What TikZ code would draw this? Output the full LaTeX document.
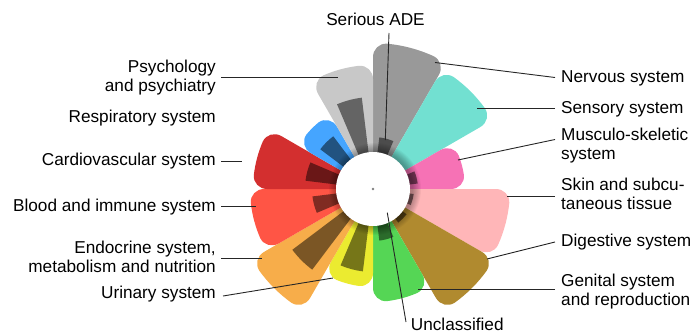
\documentclass[tikz,border=0pt]{standalone}
\usepackage{fontspec}
\setmainfont{Liberation Sans}
\definecolor{cNerv}{HTML}{999999}
\definecolor{cSens}{HTML}{72E0D1}
\definecolor{cMusc}{HTML}{F672B5}
\definecolor{cSkin}{HTML}{FFB6B8}
\definecolor{cDige}{HTML}{B08A2F}
\definecolor{cGeni}{HTML}{55D655}
\definecolor{cUrin}{HTML}{EBEB30}
\definecolor{cEndo}{HTML}{F7AD4A}
\definecolor{cBloo}{HTML}{FF5545}
\definecolor{cCard}{HTML}{D32F2F}
\definecolor{cResp}{HTML}{45A5FF}
\definecolor{cPsyc}{HTML}{C8C8C8}
% sector with rounded outer corners: a1 a2 rin R colour fillcolour-spec rho
\newcommand\mysector[6]{%
  \pgfmathsetmacro\myd{min(#6/#4*57.3,(#2-#1)/2)}%
  \fill[#5] (#1:#3) -- (#1:{#4-#6})
    .. controls (#1:{#4-0.45*#6}) and ({#1+0.45*\myd}:#4) .. ({#1+\myd}:#4)
    arc[start angle={#1+\myd}, end angle={#2-\myd}, radius=#4]
    .. controls ({#2-0.45*\myd}:#4) and (#2:{#4-0.45*#6}) .. (#2:{#4-#6})
    -- (#2:#3) -- cycle;}
\newcommand\mypetal[4]{\mysector{#1}{#2}{30}{#3}{#4}{14}}
\newcommand\mybar[3]{\mysector{#1-8}{#1+8}{30}{#2}{#3!50!black}{7}}
\begin{document}
\begin{tikzpicture}[x=1pt,y=1pt,
  lbl/.style={font=\fontsize{17.2pt}{19pt}\selectfont, inner sep=0pt, text=black},
  lead/.style={line width=0.9pt, draw=black!85},
]
\useasboundingbox (0,0) rectangle (690,-334);
\begin{scope}[shift={(373,-189)}]
  \mypetal{60}{90}{146}{cNerv}
  \mypetal{30}{60}{138}{cSens}
  \mypetal{0}{30}{92}{cMusc}
  \mypetal{-30}{0}{137}{cSkin}
  \mypetal{-60}{-30}{140}{cDige}
  \mypetal{-90}{-60}{113}{cGeni}
  \mypetal{-120}{-90}{98}{cUrin}
  \mypetal{-150}{-120}{140}{cEndo}
  \mypetal{-180}{-150}{123}{cBloo}
  \mypetal{150}{180}{120}{cCard}
  \mypetal{120}{150}{86}{cResp}
  \mypetal{90}{120}{124}{cPsyc}
  \mybar{75}{52}{cNerv}
  \mybar{45}{36}{cSens}
  \mybar{15}{45}{cMusc}
  \mybar{-15}{41}{cSkin}
  \mybar{-45}{42}{cDige}
  \mybar{-75}{52}{cGeni}
  \mybar{-105}{83}{cUrin}
  \mybar{-135}{101}{cEndo}
  \mybar{-165}{61}{cBloo}
  \mybar{165}{68}{cCard}
  \mybar{135}{66}{cResp}
  \mybar{105}{92}{cPsyc}
  \foreach \r in {38,...,46} {\fill[black, opacity=0.04] (2,0) circle (\r);}
  \fill[white] (0,0) circle (37);
  \fill[gray] (0,0) circle (1.3);
\end{scope}
% labels
\node[lbl, anchor=base] (ade) at (375.5,-26) {Serious ADE};
\node[lbl, anchor=base east] (psy) at (216,-73) {\begin{tabular}[t]{@{}r@{}}Psychology\\and psychiatry\end{tabular}};
\node[lbl, anchor=base east] (resp) at (216,-122.3) {Respiratory system};
\node[lbl, anchor=base east] (card) at (216,-165) {Cardiovascular system};
\node[lbl, anchor=base east] (bloo) at (216,-211.7) {Blood and immune system};
\node[lbl, anchor=base east] (endo) at (216,-253) {\begin{tabular}[t]{@{}r@{}}Endocrine system,\\metabolism and nutrition\end{tabular}};
\node[lbl, anchor=base east] (urin) at (216,-298.3) {Urinary system};
\node[lbl, anchor=base west] (nerv) at (561,-82.7) {Nervous system};
\node[lbl, anchor=base west] (sens) at (561,-113.3) {Sensory system};
\node[lbl, anchor=base west] (musc) at (561,-140) {\begin{tabular}[t]{@{}l@{}}Musculo-skeletic\\system\end{tabular}};
\node[lbl, anchor=base west] (skin) at (561,-190.7) {\begin{tabular}[t]{@{}l@{}}Skin and subcu-\\taneous tissue\end{tabular}};
\node[lbl, anchor=base west] (dige) at (561,-246.7) {Digestive system};
\node[lbl, anchor=base west] (geni) at (561,-286) {\begin{tabular}[t]{@{}l@{}}Genital system\\and reproduction\end{tabular}};
\node[lbl, anchor=base west] (uncl) at (410.7,-330) {Unclassified};
% leader line end points
\coordinate (psyA) at (221,-77);   \coordinate (psyB) at (338,-77);
\coordinate (cardA) at (221,-161); \coordinate (cardB) at (242,-161);
\coordinate (blooA) at (221,-206); \coordinate (blooB) at (256,-206);
\coordinate (endoA) at (221,-258); \coordinate (endoB) at (262,-258);
\coordinate (urinA) at (223,-296); \coordinate (urinB) at (333,-278);
\coordinate (nervA) at (555,-77.5); \coordinate (nervB) at (435,-62.5);
\coordinate (sensA) at (555,-108); \coordinate (sensB) at (477,-108);
\coordinate (muscA) at (555,-139.5); \coordinate (muscB) at (458,-160);
\coordinate (skinA) at (555,-196); \coordinate (skinB) at (507,-196);
\coordinate (digeA) at (555,-242); \coordinate (digeB) at (487,-259);
\coordinate (geniA) at (555,-289); \coordinate (geniB) at (418,-289);
\coordinate (adeA) at (389,-33);   \coordinate (adeB) at (385.3,-140);
\coordinate (unclA) at (406,-322); \coordinate (unclB) at (387.3,-212.7);
\foreach \n in {psy,card,bloo,endo,urin,nerv,sens,musc,skin,dige,geni,ade,uncl}
  {\draw[lead] (\n A) -- (\n B);}
\end{tikzpicture}
\end{document}
